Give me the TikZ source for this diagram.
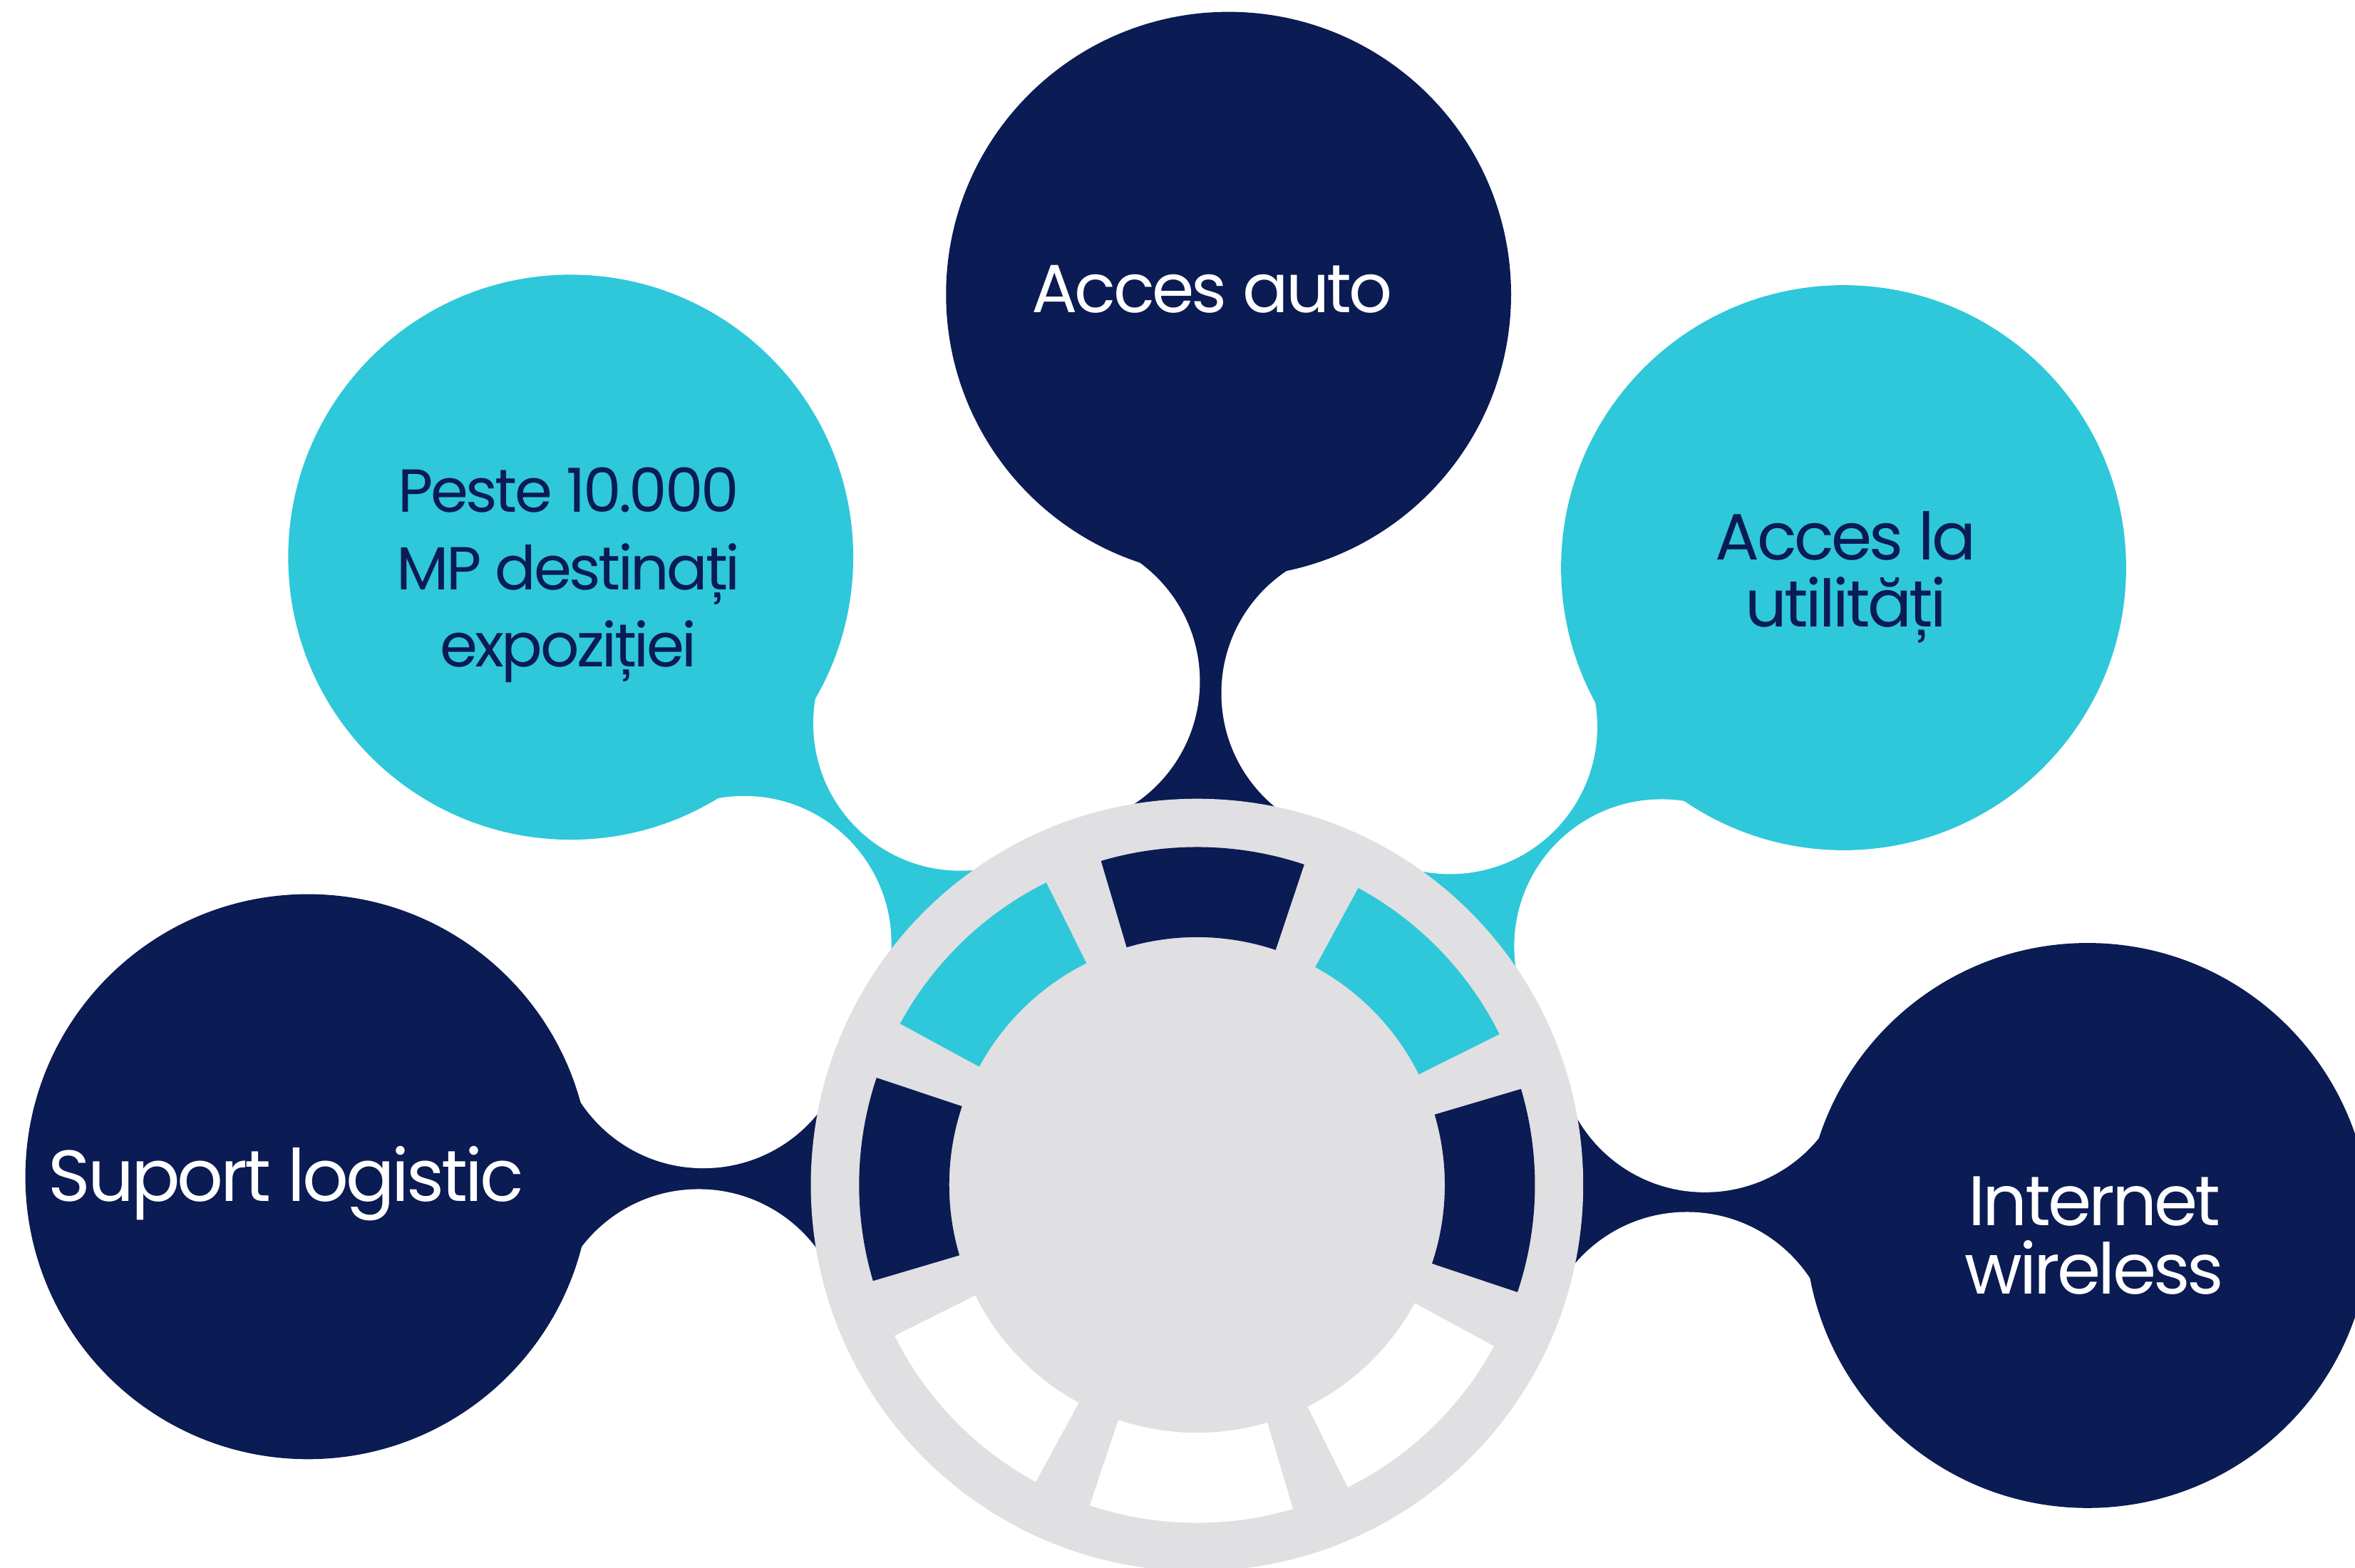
\documentclass[tikz,border=0pt]{standalone}
\usepackage{fontspec}
\setmainfont{Poppins}[LetterSpace=-4]
\usetikzlibrary{calc,backgrounds}

\definecolor{deepblue}{HTML}{0B1B53}
\definecolor{aqua}{HTML}{2EC8DA}
\definecolor{hubgray}{HTML}{E0DFE1}

\begin{document}
\begin{tikzpicture}[x=0.01cm, y=0.01cm,
        bubble/.style={circle, inner sep=0pt, minimum size=3.76cm},
        lbl/.style={align=center, anchor=base, inner sep=0pt}]
        \useasboundingbox (0,0) rectangle (1568,1044);
        \clip (0,0) rectangle (1568,1044);

        % Outer bubbles
        \node[bubble, fill=deepblue] (auto) at (818,848) {};
        \node[bubble, fill=aqua] (peste) at (380,673) {};
        \node[bubble, fill=aqua] (util) at (1227.5,666) {};
        \node[bubble, fill=deepblue] (suport) at (205,260.5) {};
        \node[bubble, fill=deepblue] (wifi) at (1390,228) {};

        % Centre wheel
        \node[circle, inner sep=0pt, minimum size=5.14cm, fill=hubgray] (hub) at (797,255) {};
        \foreach \ang/\col in {89/deepblue, 44/aqua, -1/deepblue, -46/white, -91/white, -136/white, 179/deepblue, 134/aqua}
            \fill[\col] ($(hub.center)+(\ang-17.5:225)$) arc[start angle=\ang-17.5, delta angle=35, radius=225]
                -- ($(hub.center)+(\ang+17.5:165)$) arc[start angle=\ang+17.5, delta angle=-35, radius=165] -- cycle;

        % Centres of the cut-outs on both sides of each neck
        \coordinate (auto-a) at (700.9,590.3);   \coordinate (auto-b) at (911.2,582.4);
        \coordinate (peste-a) at (639.5,562.2);  \coordinate (peste-b) at (495.5,416);
        \coordinate (util-a) at (965.5,560);     \coordinate (util-b) at (1106.2,413.8);
        \coordinate (suport-a) at (468.3,364.1); \coordinate (suport-b) at (465.1,154.2);
        \coordinate (wifi-a) at (1135.1,348.1);  \coordinate (wifi-b) at (1123.2,139);

        % Necks behind the bubbles
        \begin{pgfonlayer}{background}
            \foreach \b/\col in {auto/deepblue, peste/aqua, util/aqua, suport/deepblue, wifi/deepblue}
                \fill[\col] (\b.center) -- (\b-a) -- (hub.center) -- (\b-b) -- cycle;
            \foreach \b in {auto, peste, util, suport, wifi}
                \fill[white] (\b-a) circle (98) (\b-b) circle (98);
        \end{pgfonlayer}

        % Labels (base = baseline of the last line)
        \node[lbl, text=white, font=\fontsize{12.9}{16}\selectfont] (auto-txt) at (807,836) {Acces auto};
        \node[lbl, text=deepblue, font=\fontsize{11.5}{14.65}\selectfont] (peste-txt) at (378.4,600) {Peste 10.000\\MP destinați\\expoziției};
        \node[lbl, text=deepblue, font=\fontsize{12.4}{12.8}\selectfont] (util-txt) at (1229,626.4) {Acces la\\utilități};
        \node[lbl, text=white, font=\fontsize{13.7}{16}\selectfont] (suport-txt) at (190.5,244) {Suport logistic};
        \node[lbl, text=white, font=\fontsize{13.3}{12.9}\selectfont] (wifi-txt) at (1394.5,182.5) {Internet\\wireless};
\end{tikzpicture}
\end{document}
